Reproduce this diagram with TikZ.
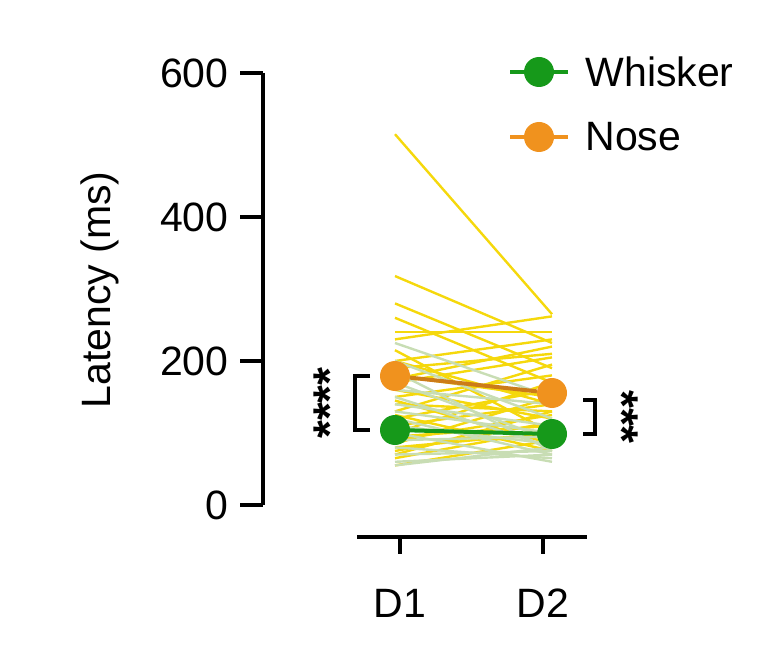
\documentclass[tikz,border=0pt]{standalone}
\usepackage{fontspec}
\setmainfont{Liberation Sans}
\definecolor{wyellow}{HTML}{F5D80C}
\definecolor{wlight}{HTML}{C8DDB4}
\definecolor{wgreen}{HTML}{16991A}
\definecolor{norange}{HTML}{F0921E}
\tikzstyle{axis}=[line width=4.5pt]
\tikzstyle{dot}=[circle,inner sep=0pt,minimum size=30pt]
\tikzstyle{lab}=[font=\fontsize{41}{45}\selectfont]

\begin{document}
\begin{tikzpicture}[x=1pt,y=-1pt]
  \useasboundingbox (0,0) rectangle (769,647);
  % individual animals
  \foreach \a/\b in {515/265,318/225,280/190,260/170,240/240,230/262,215/100,200/230,190/210,180/150,170/205,160/120,150/180,140/130,130/195,120/160,110/140,100/170,95/110,90/125,85/150,80/100,75/115,70/130,65/105,55/90,200/140,175/220,145/85,125/75}
    \draw[wyellow,line width=2.4pt] (395,{505-0.72*\a}) -- (552,{505-0.72*\b});
  \foreach \a/\b in {225/150,200/120,170/90,150/80,130/100,120/70,110/85,100/60,90/95,80/65,70/75,60/70,55/80,140/110,160/140,185/75}
    \draw[wlight,line width=2.4pt] (395,{505-0.72*\a}) -- (552,{505-0.72*\b});
  % means
  \node[dot,fill=norange] (n1) at (395,376) {};
  \node[dot,fill=norange] (n2) at (552,393) {};
  \node[dot,fill=wgreen] (w1) at (395,430) {};
  \node[dot,fill=wgreen] (w2) at (552,434) {};
  \draw[norange!85!black,line width=4pt] (n1) -- (n2);
  \draw[wgreen,line width=4pt] (w1) -- (w2);
  % axes
  \draw[axis] (263,73) -- (263,505);
  \foreach \v/\t in {0/0,200/200,400/400,600/600}{
    \draw[axis] (240,{505-0.72*\v}) -- (263,{505-0.72*\v});
    \node[lab,anchor=east] (t\v) at (232,{505-0.72*\v}) {\t};
  }
  \node[lab,rotate=90] (ylab) at (100,290) {Latency (ms)};
  \draw[axis] (357,537) -- (587,537);
  \draw[axis] (400,537) -- (400,554);
  \draw[axis] (543,537) -- (543,554);
  \node[lab] (d1) at (400,603) {D1};
  \node[lab] (d2) at (543,603) {D2};
  % brackets
  \draw[axis] (370,376) -- (355,376) -- (355,430) -- (370,430);
  \node[lab,rotate=90,font=\fontsize{46}{50}\selectfont\bfseries] (s1) at (330,403) {****};
  \draw[axis] (583,400) -- (595,400) -- (595,434) -- (583,434);
  \node[lab,rotate=-90,font=\fontsize{46}{50}\selectfont\bfseries] (s2) at (622,417) {***};
  % legend
  \draw[wgreen,line width=4pt] (510,72) -- (568,72);
  \node[dot,fill=wgreen] (lw) at (539,72) {};
  \node[lab,anchor=west] (lwt) at (582,72) {Whisker};
  \draw[norange,line width=4pt] (510,137) -- (568,137);
  \node[dot,fill=norange] (ln) at (539,137) {};
  \node[lab,anchor=west] (lnt) at (582,137) {Nose};
\end{tikzpicture}
\end{document}
